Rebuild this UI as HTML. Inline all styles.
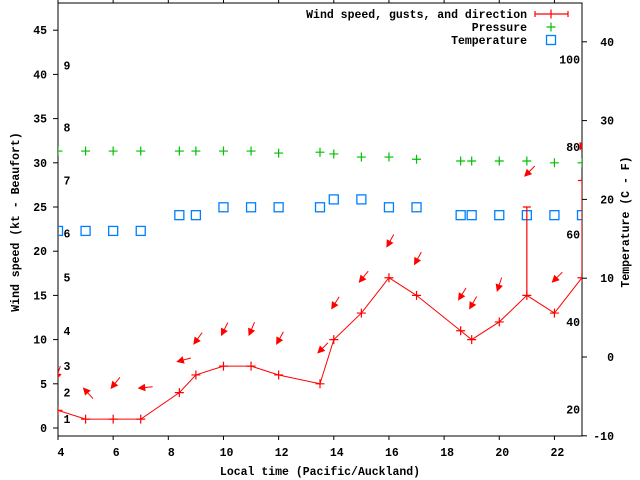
<!DOCTYPE html>
<html><head><meta charset="utf-8"><style>
html,body{margin:0;padding:0;background:#fff}
svg{display:block;font-family:"Liberation Mono",monospace;font-weight:bold;font-size:11.5px}
</style></head><body>
<svg id="chart" width="640" height="480" viewBox="0 0 640 480" xmlns="http://www.w3.org/2000/svg">
<defs><clipPath id="pc"><rect x="58" y="3" width="524" height="433"/></clipPath></defs>
<g id="axes"></g>
<g id="marks" clip-path="url(#pc)"></g>
<g id="legend"></g>
</svg>
<script>
const times=[4,5,6,7,8.4,9,10,11,12,13.5,14,15,16,17,18.6,19,20,21,22,23];
const windSpeed=[2,1,1,1,4,6,7,7,6,5,10,13,17,15,11,10,12,15,13,17];
const windGust=[null,null,null,null,null,null,null,null,null,null,null,null,null,null,null,null,null,25,null,28];
const windDir=[18,138,39,84,75,36,27,23,29,45,32,39,29,29,32,30,18,45,45,27];
const pressure=[31.33,31.33,31.33,31.33,31.33,31.33,31.33,31.33,31.1,31.2,31.0,30.65,30.65,30.4,30.2,30.2,30.2,30.2,30.0,30.0];
const tempC=[16,16,16,16,18,18,19,19,19,19,20,20,19,19,18,18,18,18,18,18];
const xTicks=[4,6,8,10,12,14,16,18,20,22];
const yTicks=[0,5,10,15,20,25,30,35,40,45];
const tTicks=[-10,0,10,20,30,40];
const beaufortKt=[1,4,7,11,17,22,28,34,41];
const beaufortLbl=["1","2","3","4","5","6","7","8","9"];
const fTicks=[20,40,60,80,100];

const L=58,R=582,T=3,B=436;
const x=t=>L+(t-4)*(R-L)/19;
const y=w=>428-w*8.84;
const yT=c=>357-c*7.88;
const NS="http://www.w3.org/2000/svg";
function mk(tag,attrs,parent,txt){const e=document.createElementNS(NS,tag);for(const k in attrs)e.setAttribute(k,attrs[k]);if(txt!==undefined)e.textContent=txt;parent.appendChild(e);return e;}
const ax=document.getElementById('axes'),mg=document.getElementById('marks'),lg=document.getElementById('legend');

let e=mk('rect',{x:L,y:T,width:R-L,height:B-T,fill:'none',stroke:'#000','stroke-width':1},ax);


xTicks.forEach(t=>{
  let a=mk('line',{x1:x(t),x2:x(t),y1:B,y2:B+4,stroke:'#000'},ax);
  
  
  let b=mk('line',{x1:x(t),x2:x(t),y1:T,y2:T-4,stroke:'#000'},ax);
  
  
  let l=mk('text',{x:x(t)+3,y:B+20,'text-anchor':'middle'},ax,String(t));
  
  
});
yTicks.forEach(v=>{
  let a=mk('line',{x1:L-5,x2:L,y1:y(v),y2:y(v),stroke:'#000'},ax);
  
  
  let l=mk('text',{x:47,y:y(v)+4,'text-anchor':'end'},ax,String(v));
  
  
});
tTicks.forEach(v=>{
  let a=mk('line',{x1:R,x2:R+5,y1:yT(v),y2:yT(v),stroke:'#000'},ax);
  
  
  let l=mk('text',{x:614,y:yT(v)+4,'text-anchor':'end'},ax,String(v));
  
  
});
beaufortKt.forEach((k,i)=>{
  let l=mk('text',{x:67,y:y(k)+4,'text-anchor':'middle'},ax,beaufortLbl[i]);
  
  
});
fTicks.forEach(f=>{
  let l=mk('text',{x:580,y:yT((f-32)*5/9)+4,'text-anchor':'end'},ax,String(f));
  
  
});
e=mk('text',{x:320,y:475,'text-anchor':'middle'},ax,'Local time (Pacific/Auckland)');


e=mk('text',{x:0,y:0,'text-anchor':'middle',transform:'translate(19,222) rotate(-90)'},ax,'Wind speed (kt - Beaufort)');


e=mk('text',{x:0,y:0,'text-anchor':'middle',transform:'translate(629,222) rotate(-90)'},ax,'Temperature (C - F)');



function plus(cx,cy,col,parent,name){
  let g=mk('path',{d:`M${cx-4.5} ${cy}H${cx+4.5}M${cx} ${cy-4.5}V${cy+4.5}`,stroke:col,'stroke-width':1.2,fill:'none'},parent);
  
  
}
function square(cx,cy,parent){
  let s=mk('rect',{x:cx-4.5,y:cy-4.5,width:9,height:9,fill:'none',stroke:'#0080ff','stroke-width':1.3},parent);
  
  
}
// temperature
times.forEach((t,i)=>square(x(t),yT(tempC[i]),mg));
// pressure
times.forEach((t,i)=>plus(x(t),y(pressure[i]),'#00c000',mg,'pressure-point'));
// wind line
let pts=times.map((t,i)=>x(t)+','+y(windSpeed[i])).join(' ');
e=mk('polyline',{points:pts,fill:'none',stroke:'#f00','stroke-width':1},mg);


times.forEach((t,i)=>plus(x(t),y(windSpeed[i]),'#f00',mg,'wind-speed-point'));
// gusts
times.forEach((t,i)=>{
  if(windGust[i]==null)return;
  let g=mk('path',{d:`M${x(t)} ${y(windSpeed[i])}V${y(windGust[i])}M${x(t)-4} ${y(windGust[i])}H${x(t)+4}`,stroke:'#f00','stroke-width':1.2,fill:'none'},mg);
  
  
});
// direction arrows
times.forEach((t,i)=>{
  const top=Math.max(windSpeed[i],windGust[i]||0);
  const hx=x(t)-2,hy=y(top)-31;
  const a=windDir[i]*Math.PI/180,dx=Math.sin(a),dy=-Math.cos(a);
  const tx=hx+dx*14,ty=hy+dy*14;
  const px=-dy,py=dx;
  const bx=hx+dx*6,by=hy+dy*6;
  let g=mk('path',{d:`M${tx} ${ty}L${hx} ${hy}M${hx} ${hy}L${bx+px*3} ${by+py*3}L${bx-px*3} ${by-py*3}Z`,stroke:'#f00','stroke-width':1,fill:'#f00'},mg);
  
  
});
// legend
const leg=[['Wind speed, gusts, and direction',14],['Pressure',27],['Temperature',40]];
leg.forEach(([s,yy])=>{
  let l=mk('text',{x:527,y:yy+4,'text-anchor':'end'},lg,s);
  
  
});
e=mk('path',{d:'M535 14H568M535 11V17M568 11V17M551 9.5V18.5',stroke:'#f00','stroke-width':1.2,fill:'none'},lg);


plus(551,27,'#00c000',lg,'legend-pressure-sample');
square(551,40,lg);
</script>
</body></html>
